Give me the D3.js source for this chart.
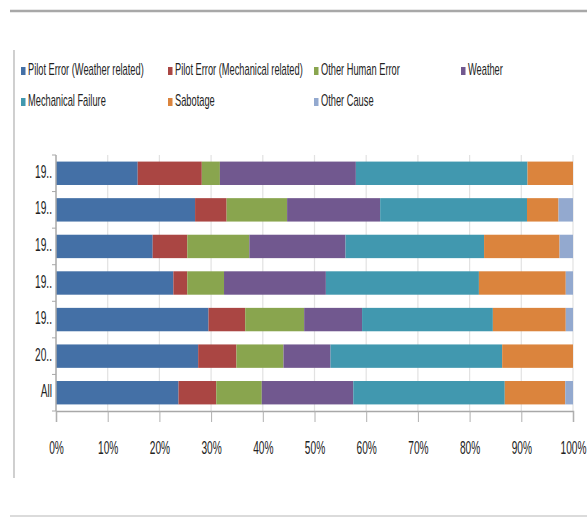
<!DOCTYPE html>
<html>
<head>
<meta charset="utf-8">
<script src="https://cdn.jsdelivr.net/npm/d3@7"></script>
<style>
  html, body { margin: 0; padding: 0; background: #fff; }
  svg { display: block; }
  text { font-family: "Liberation Sans", Arial, sans-serif; fill: #222; }
</style>
</head>
<body>
<script>
// ---- data ----
const categories = ["19..", "19..", "19..", "19..", "19..", "20..", "All"];
const seriesNames = ["Pilot Error (Weather  related)", "Pilot Error (Mechanical  related)", "Other Human Error", "Weather", "Mechanical Failure", "Sabotage", "Other Cause"];
const seriesColors = ["#4470A6", "#AA4643", "#89A54E", "#71588F", "#4198AF", "#DB843D", "#93A9CF"];
const pilotWeather    = [15.8, 26.9, 18.7, 22.7, 29.5, 27.5, 23.7];
const pilotMechanical = [12.4,  6.1,  6.7,  2.7,  7.1,  7.4,  7.3];
const otherHuman      = [ 3.5, 11.7, 12.0,  7.1, 11.4,  9.1,  8.8];
const weather         = [26.3, 18.0, 18.6, 19.7, 11.2,  9.1, 17.7];
const mechanical      = [33.2, 28.4, 26.8, 29.6, 25.3, 33.2, 29.3];
const sabotage        = [ 8.8,  6.1, 14.6, 16.8, 14.1, 13.7, 11.7];
const otherCause      = [ 0.0,  2.8,  2.6,  1.4,  1.4,  0.0,  1.5];
const xTicks = [0, 0.1, 0.2, 0.3, 0.4, 0.5, 0.6, 0.7, 0.8, 0.9, 1.0];

const seriesValues = [pilotWeather, pilotMechanical, otherHuman, weather, mechanical, sabotage, otherCause];

// ---- layout ----
const W = 587, H = 518;
const svg = d3.select("body").append("svg").attr("width", W).attr("height", H);
const SX = 0.58; // horizontal text compression

// frame lines
svg.append("line").attr("x1", 10).attr("x2", W).attr("y1", 11).attr("y2", 11)
  .attr("stroke", "#a8a8a8").attr("stroke-width", 2.5);
svg.append("line").attr("x1", 10).attr("x2", W).attr("y1", 516).attr("y2", 516)
  .attr("stroke", "#cfcfcf").attr("stroke-width", 1.5);
svg.append("line").attr("x1", 14).attr("x2", 14).attr("y1", 50).attr("y2", 478)
  .attr("stroke", "#b0b0b0").attr("stroke-width", 1.2);

// normalise rows into shares
const rows = categories.map((c, i) => {
  const r = { idx: i, cat: c };
  const total = d3.sum(seriesValues, s => s[i]);
  seriesNames.forEach((n, k) => r[n] = seriesValues[k][i] / total);
  return r;
});
const stack = d3.stack().keys(seriesNames)(rows);

const x = d3.scaleLinear().domain([0, 1]).range([56, 573]);
const y = d3.scaleBand().domain(d3.range(categories.length)).range([155, 411])
  .paddingInner(0.36).paddingOuter(0.18);
const step = y.step();

// gridlines
svg.append("g").selectAll("line").data(xTicks.slice(1)).join("line")
  .attr("x1", d => x(d)).attr("x2", d => x(d))
  .attr("y1", 155).attr("y2", 411)
  .attr("stroke", "#e2e2e2").attr("stroke-width", 1.2);

// bars
svg.append("g").selectAll("g").data(stack).join("g")
  .attr("fill", (d, i) => seriesColors[i])
  .selectAll("rect").data(d => d).join("rect")
  .attr("x", d => x(d[0]))
  .attr("width", d => Math.max(0, x(d[1]) - x(d[0])))
  .attr("y", (d, i) => y(i))
  .attr("height", y.bandwidth());

// x axis
const xAxis = d3.axisBottom(x).tickValues(xTicks).tickFormat(d3.format(".0%"))
  .tickSize(11).tickPadding(20);
const xa = svg.append("g").attr("transform", "translate(0,411)").call(xAxis);
xa.select(".domain").attr("stroke", "#a8a8a8").attr("stroke-width", 1.5);
xa.selectAll(".tick line").attr("stroke", "#b0b0b0");
xa.selectAll(".tick text").each(function () {
  const t = d3.select(this);
  t.attr("font-size", 17.5).attr("fill", "#222").attr("dy", null).attr("y", 0)
   .attr("dominant-baseline", "middle")
   .attr("transform", `translate(0,38) scale(${SX},1)`);
});

// y axis
svg.append("line").attr("x1", 56).attr("x2", 56).attr("y1", 155).attr("y2", 411)
  .attr("stroke", "#a8a8a8").attr("stroke-width", 1.5);
const yEdges = d3.range(categories.length + 1).map(i => 155 + i * step);
svg.append("g").selectAll("line").data(yEdges).join("line")
  .attr("x1", 52).attr("x2", 56).attr("y1", d => d).attr("y2", d => d)
  .attr("stroke", "#a8a8a8");
svg.append("g").selectAll("text").data(categories).join("text")
  .attr("transform", (d, i) => `translate(52,${y(i) + y.bandwidth() / 2}) scale(${SX},1)`)
  .attr("text-anchor", "end").attr("dominant-baseline", "middle")
  .attr("font-size", 17.5).text(d => d);

// legend
const legendPos = [[21, 71], [168, 71], [314, 71], [461, 71], [21, 102], [168, 102], [314, 102]];
const lg = svg.append("g").selectAll("g").data(seriesNames).join("g")
  .attr("transform", (d, i) => `translate(${legendPos[i][0]},${legendPos[i][1]})`);
lg.append("rect").attr("x", 0).attr("y", -4).attr("width", 4.5).attr("height", 8)
  .attr("fill", (d, i) => seriesColors[i]);
lg.append("text").attr("transform", `translate(7,0) scale(${SX},1)`)
  .attr("dominant-baseline", "middle").attr("font-size", 16).text(d => d);
</script>
</body>
</html>
